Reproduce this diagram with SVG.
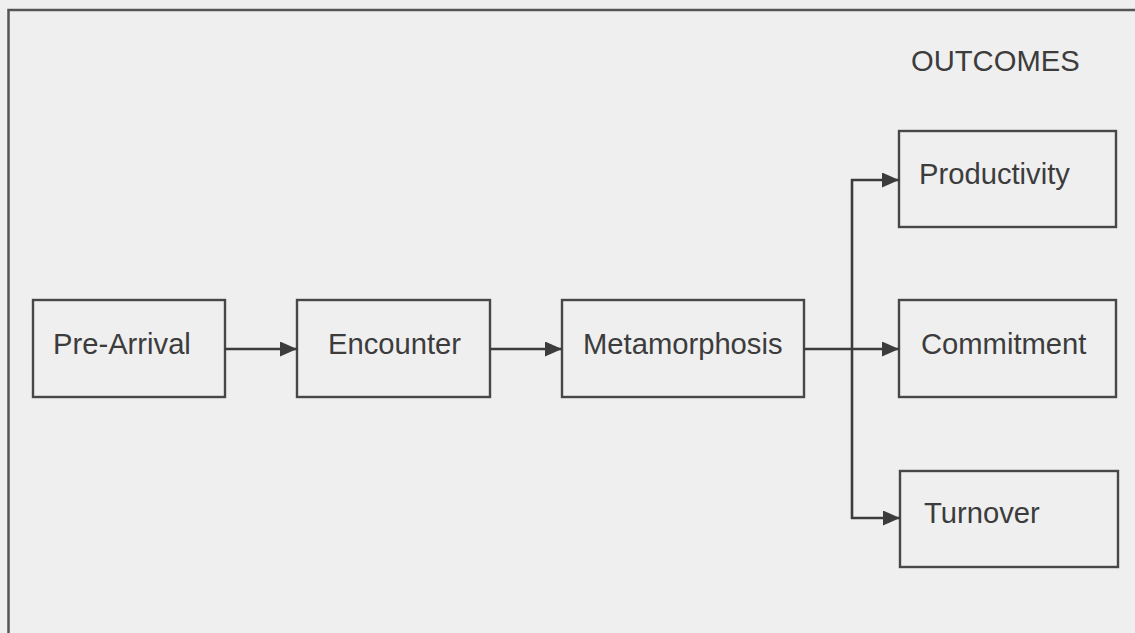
<svg xmlns="http://www.w3.org/2000/svg" width="1135" height="633" viewBox="0 0 1135 633">
  <defs>
    <marker id="arrow" markerWidth="17" markerHeight="15" refX="17" refY="7.5" orient="auto" markerUnits="userSpaceOnUse">
      <path d="M0,0 L17,7.5 L0,15 Z" fill="#3c3c3c"/>
    </marker>
    <style>
      .box { fill: none; stroke: #474747; stroke-width: 2.4; }
      .lbl { font-family: "Liberation Sans", Arial, sans-serif; font-size: 29.2px; fill: #3c3c3c; }
      .wire { fill: none; stroke: #3c3c3c; stroke-width: 2.6; }
    </style>
  </defs>

  <rect width="1135" height="633" fill="#efefef"/>
  <!-- outer frame, running off the right and bottom edges -->
  <rect x="8.5" y="10" width="1140" height="640" fill="none" stroke="#555" stroke-width="2.5"/>

  <text class="lbl" x="911" y="71">OUTCOMES</text>

  <g id="pre-arrival">
    <rect class="box" x="33" y="300" width="192" height="97"/>
    <text class="lbl" x="53" y="354">Pre-Arrival</text>
  </g>
  <g id="encounter">
    <rect class="box" x="297" y="300" width="193" height="97"/>
    <text class="lbl" x="328" y="354">Encounter</text>
  </g>
  <g id="metamorphosis">
    <rect class="box" x="562" y="300" width="242" height="97"/>
    <text class="lbl" x="583" y="354">Metamorphosis</text>
  </g>
  <g id="productivity">
    <rect class="box" x="899" y="131" width="217" height="96"/>
    <text class="lbl" x="919" y="184">Productivity</text>
  </g>
  <g id="commitment">
    <rect class="box" x="899" y="300" width="217" height="97"/>
    <text class="lbl" x="921" y="354">Commitment</text>
  </g>
  <g id="turnover">
    <rect class="box" x="900" y="471" width="218" height="96"/>
    <text class="lbl" x="924" y="523">Turnover</text>
  </g>

  <g id="connectors">
    <line class="wire" x1="225" y1="349" x2="297" y2="349" marker-end="url(#arrow)"/>
    <line class="wire" x1="490" y1="349" x2="562" y2="349" marker-end="url(#arrow)"/>
    <line class="wire" x1="804" y1="349" x2="899" y2="349" marker-end="url(#arrow)"/>
    <line class="wire" x1="852" y1="179" x2="852" y2="519"/>
    <line class="wire" x1="851" y1="180" x2="899" y2="180" marker-end="url(#arrow)"/>
    <line class="wire" x1="851" y1="518" x2="900" y2="518" marker-end="url(#arrow)"/>
  </g>
</svg>
